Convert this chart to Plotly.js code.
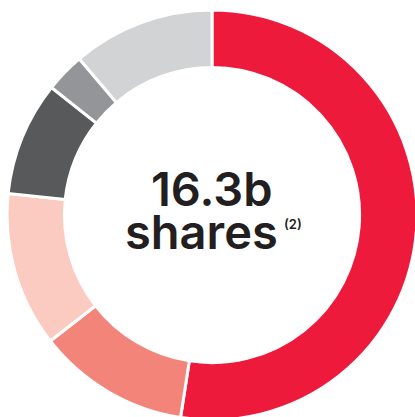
<!DOCTYPE html>
<html>
<head>
<meta charset="utf-8">
<script src="https://cdn.plot.ly/plotly-3.0.1.min.js"></script>
<style>
html,body{margin:0;padding:0;overflow:hidden;background:#fff;}
#chart{width:424px;height:430px;}
</style>
</head>
<body>
<div id="chart"></div>
<script>
// Shares by holder group (percent of 16.3b shares), clockwise from 12 o'clock
const categories = ["Group A", "Group B", "Group C", "Group D", "Group E", "Group F"];
const values = [52.4, 12.0, 12.2, 9.0, 3.1, 11.2];
const colors = ["#ED1A3B", "#F2847A", "#FBCAC0", "#58595B", "#939598", "#D1D3D4"];
const centerTitle = "16.3b";
const centerSub = "shares";
const footnote = "(2)";

const W = 424, H = 430;
const px = x => x / W;
const py = y => (H - y) / H;

const trace = {
  type: "pie",
  labels: categories,
  values: values,
  sort: false,
  direction: "clockwise",
  rotation: 0,
  hole: 0.72,
  textinfo: "none",
  hoverinfo: "none",
  marker: {colors: colors, line: {color: "#ffffff", width: 3}},
  domain: {x: [0, 1], y: [py(420), py(10)]},
  showlegend: false
};

const font = "Inter, 'Noto Sans', sans-serif";
const layout = {
  width: W, height: H,
  margin: {l: 0, r: 0, t: 0, b: 0},
  paper_bgcolor: "#ffffff",
  showlegend: false,
  annotations: [
    {text: centerTitle, x: px(212), y: py(188), xref: "paper", yref: "paper",
     xanchor: "center", yanchor: "middle", height: 40, valign: "middle", showarrow: false,
     font: {family: font, size: 47, color: "#231F20", weight: 600}},
    {text: centerSub, x: px(201), y: py(231), xref: "paper", yref: "paper",
     xanchor: "center", yanchor: "middle", height: 40, valign: "middle", showarrow: false,
     font: {family: font, size: 47, color: "#231F20", weight: 600}},
    {text: footnote, x: px(293), y: py(224), xref: "paper", yref: "paper",
     xanchor: "center", yanchor: "middle", showarrow: false,
     font: {family: font, size: 13, color: "#231F20", weight: 600}}
  ]
};

Plotly.newPlot("chart", [trace], layout, {displayModeBar: false, staticPlot: true});
</script>
</body>
</html>
